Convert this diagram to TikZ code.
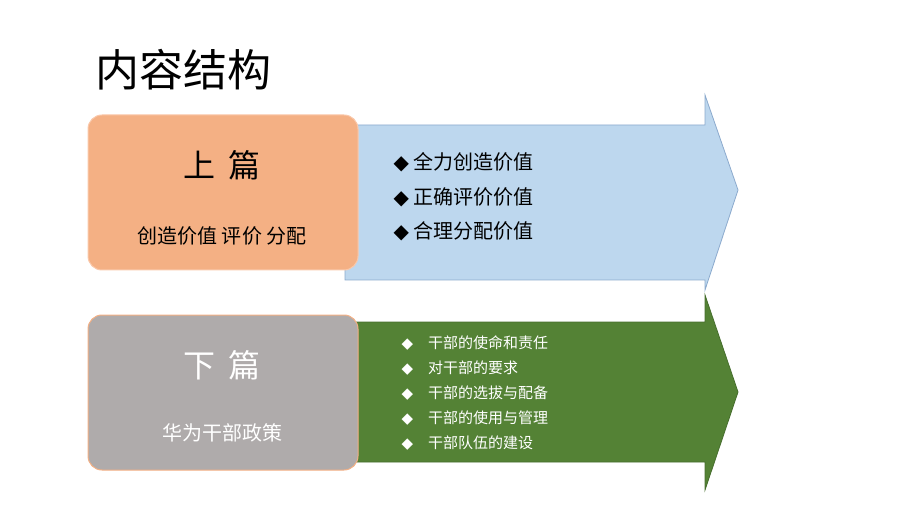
\documentclass[tikz,border=0pt]{standalone}
\usepackage{fontspec}
\setmainfont{Noto Sans CJK SC}
\newfontfamily\cjk{Noto Sans CJK SC}
\newfontfamily\sym{DejaVu Sans}
\begin{document}
\begin{tikzpicture}[x=1pt,y=-1pt]
\useasboundingbox (0,0) rectangle (920,518);
\tikzset{pbox/.style={rounded corners=14pt,line width=1pt},
 ltxt/.style={anchor=west,font=\fontsize{20}{24}\selectfont},
 stxt/.style={anchor=west,font=\fontsize{15}{18}\selectfont,text=white}}
\node[anchor=west,font=\fontsize{44}{50}\selectfont] (title) at (92,70) {内容结构};
% arrows
\draw[fill={rgb,255:red,189;green,215;blue,238},draw={rgb,255:red,140;green,170;blue,205},line width=0.8pt]
 (345,125) -- (705,125) -- (705,95) -- (738,190) -- (705,290) -- (705,280) -- (345,280) -- cycle;
\draw[fill={rgb,255:red,84;green,130;blue,53},draw={rgb,255:red,70;green,110;blue,45},line width=0.8pt]
 (345,322) -- (705,322) -- (705,295) -- (738,392) -- (705,490) -- (705,462) -- (345,462) -- cycle;
% boxes
\draw[pbox,fill={rgb,255:red,244;green,176;blue,132},draw={rgb,255:red,250;green,200;blue,170}] (88,115) rectangle (358,270);
\draw[pbox,fill={rgb,255:red,175;green,171;blue,171},draw={rgb,255:red,244;green,176;blue,132}] (88,315) rectangle (358,470);
\node[font=\fontsize{32}{36}\selectfont] (up) at (222,165) {上\hspace{0.4em}篇};
\node[font=\fontsize{20}{24}\selectfont] (upsub) at (222,236) {创造价值 评价 分配};
\node[font=\fontsize{32}{36}\selectfont,text=white] (dn) at (222,365) {下\hspace{0.4em}篇};
\node[font=\fontsize{20}{24}\selectfont,text=white] (dnsub) at (222,433) {华为干部政策};
\node[ltxt] (b1) at (390,162) {{\sym ◆} 全力创造价值};
\node[ltxt] (b2) at (390,197) {{\sym ◆} 正确评价价值};
\node[ltxt] (b3) at (390,231) {{\sym ◆} 合理分配价值};
\node[stxt] (s1) at (398,343) {{\sym ◆}\hspace{1em}干部的使命和责任};
\node[stxt] (s2) at (398,368) {{\sym ◆}\hspace{1em}对干部的要求};
\node[stxt] (s3) at (398,393) {{\sym ◆}\hspace{1em}干部的选拔与配备};
\node[stxt] (s4) at (398,418) {{\sym ◆}\hspace{1em}干部的使用与管理};
\node[stxt] (s5) at (398,443) {{\sym ◆}\hspace{1em}干部队伍的建设};
\end{tikzpicture}
\end{document}
